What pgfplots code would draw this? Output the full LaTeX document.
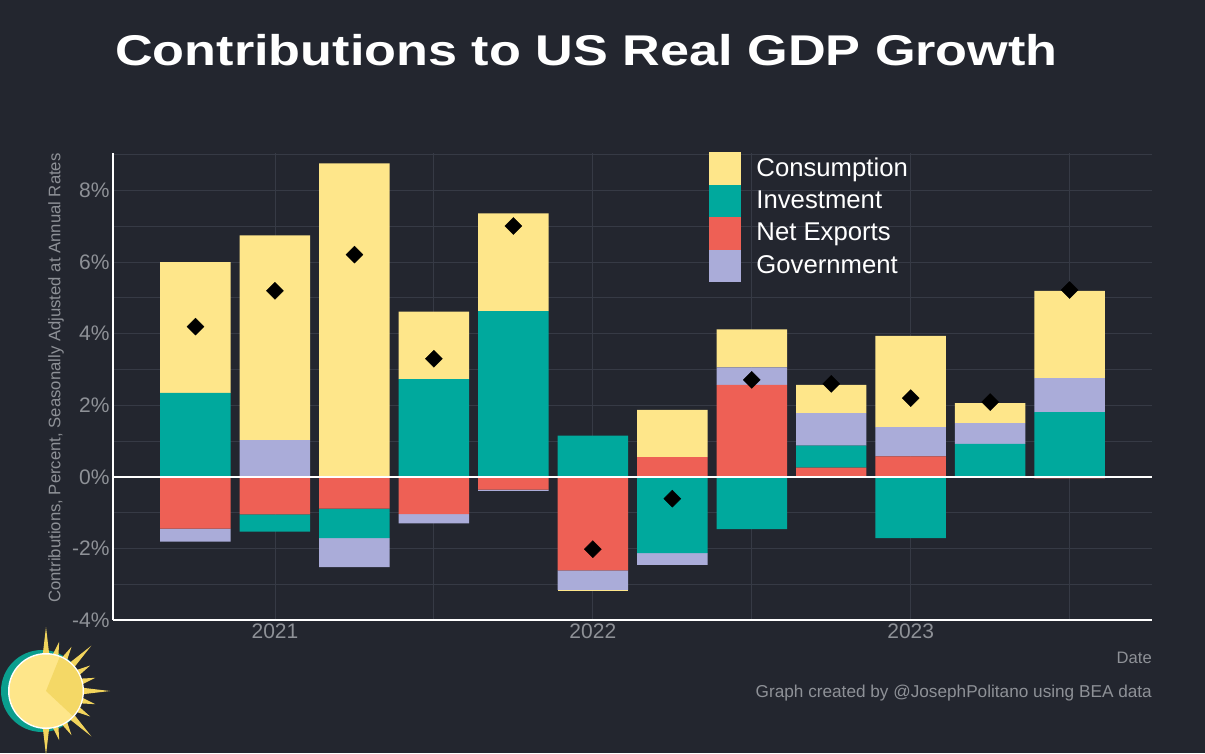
\documentclass[border=0pt]{standalone}
\usepackage{fontspec}
\setmainfont{Liberation Sans}
\usepackage{pgfplots}
\pgfplotsset{compat=1.18}
\usepackage{pgfplotstable}
\usepackage{graphicx}

\definecolor{bg}{HTML}{23262F}
\definecolor{gridc}{HTML}{363A45}
\definecolor{txtgray}{HTML}{8E9197}
\definecolor{consC}{HTML}{FEE68A}
\definecolor{invC}{HTML}{00A99D}
\definecolor{nxC}{HTML}{EE6055}
\definecolor{govC}{HTML}{AAACD9}
\definecolor{tealL}{HTML}{0A9E8E}
\definecolor{rayC}{HTML}{F2D45C}
\definecolor{sunL}{HTML}{FEE68A}
\definecolor{sunD}{HTML}{F4D866}

% quarters 2020Q4 ... 2023Q3 (idx 0..11)
\pgfplotstableread{
idx cons inv nx gov total
0 3.65 2.35 -1.45 -0.36 4.20
1 5.72 -0.48 -1.05 1.03 5.20
2 8.76 -0.82 -0.89 -0.81 6.21
3 1.89 2.73 -1.04 -0.26 3.30
4 2.73 4.63 -0.36 -0.03 7.01
5 -0.02 1.15 -2.61 -0.55 -2.02
6 1.32 -2.13 0.55 -0.33 -0.61
7 1.06 -1.46 2.57 0.49 2.71
8 0.79 0.61 0.26 0.91 2.60
9 2.55 -1.71 0.57 0.82 2.20
10 0.56 0.92 0.00 0.58 2.09
11 2.44 1.81 -0.04 0.95 5.22
}\gdp

\pgfplotsset{
  base/.style={
    scale only axis, width=1039pt, height=467pt,
    at={(113pt,133pt)}, anchor=south west,
    xmin=-1.038, xmax=12.036, ymin=-4, ymax=9.05,
    enlargelimits=false,
  },
}

\begin{document}
\begin{tikzpicture}
\fill[bg] (0pt,0pt) rectangle (1205pt,753pt);

% axis A: grid, ticks, positive stacks
\begin{axis}[base,
  ybar stacked, bar width=0.887,
  axis lines*=left,
  axis line style={white, line width=2pt},
  xtick={1,5,9}, xticklabels={2021,2022,2023},
  minor xtick={3,7,11},
  ytick={-4,-2,0,2,4,6,8}, yticklabels={-4\%,-2\%,0\%,2\%,4\%,6\%,8\%},
  minor ytick={-3,-1,1,3,5,7,9},
  grid=both,
  major grid style={gridc, line width=0.9pt},
  minor grid style={gridc, line width=0.9pt},
  major tick length=0pt, minor tick length=0pt,
  tick label style={font=\fontsize{21}{21}\selectfont, text=txtgray},
  ylabel={Contributions, Percent, Seasonally Adjusted at Annual Rates},
  ylabel style={at={(axis description cs:-0.0549,0.5182)}, anchor=center, font=\fontsize{16.7}{16.7}\selectfont, text=txtgray, inner sep=0pt},
  xlabel={Date},
  xlabel style={at={(axis description cs:1,-0.0942)}, anchor=base east, font=\fontsize{16.6}{16.6}\selectfont, text=txtgray, inner sep=0pt},
]
\addplot[fill=nxC, draw=none] table[x=idx, y expr={max(\thisrow{nx},0)}]{\gdp};
\addplot[fill=invC, draw=none] table[x=idx, y expr={max(\thisrow{inv},0)}]{\gdp};
\addplot[fill=govC, draw=none] table[x=idx, y expr={max(\thisrow{gov},0)}]{\gdp};
\addplot[fill=consC, draw=none] table[x=idx, y expr={max(\thisrow{cons},0)}]{\gdp};
\end{axis}

% axis B: negative stacks
\begin{axis}[base, hide axis, ybar stacked, bar width=0.887]
\addplot[fill=nxC, draw=none] table[x=idx, y expr={min(\thisrow{nx},0)}]{\gdp};
\addplot[fill=invC, draw=none] table[x=idx, y expr={min(\thisrow{inv},0)}]{\gdp};
\addplot[fill=govC, draw=none] table[x=idx, y expr={min(\thisrow{gov},0)}]{\gdp};
\addplot[fill=consC, draw=none] table[x=idx, y expr={min(\thisrow{cons},0)}]{\gdp};
\end{axis}

% axis C: zero line, totals, legend
\begin{axis}[base, hide axis,
  legend cell align=left,
  legend image code/.code={\fill[#1] (0pt,-17pt) rectangle (32.5pt,15.5pt);},
  legend style={at={(rel axis cs:0.5736,1.002)}, anchor=north west, draw=none, fill=none,
    inner sep=0pt, outer sep=0pt, row sep=0pt,
    font=\fontsize{25.7}{25.7}\selectfont, text=white,
    nodes={inner sep=0pt},
    /tikz/every odd column/.style={column sep=15pt}},
]
\draw[white, line width=2pt] (axis cs:-1.038,0) -- (axis cs:12.036,0);
\addlegendimage{fill=consC, draw=none}
\addlegendentry{Consumption}
\addlegendimage{fill=invC, draw=none}
\addlegendentry{Investment}
\addlegendimage{fill=nxC, draw=none}
\addlegendentry{Net Exports}
\addlegendimage{fill=govC, draw=none}
\addlegendentry{Government}
\addplot[only marks, mark=square*, mark size=6pt, mark options={rotate=45, fill=black, draw=black}, forget plot] table[x=idx, y=total]{\gdp};
\end{axis}

\node[anchor=base west, inner sep=0pt, text=white] at (115pt,687pt)
  {\scalebox{1.214}[1]{\fontsize{43}{43}\selectfont\bfseries Contributions to US Real GDP Growth}};
\node[anchor=base east, inner sep=0pt, text=txtgray, font=\fontsize{17.2}{17.2}\selectfont] at (1152pt,56pt)
  {Graph created by @JosephPolitano using BEA data};

% logo (overlay so that it does not widen the picture)
\begin{scope}[overlay, x=1pt, y=1pt]
\fill[tealL] (42,62) circle (41);
\foreach \a in {-90,-75,...,90} {
  \pgfmathsetmacro\L{ifthenelse(mod(\a+90,45)==0,64,51)}
  \fill[rayC, shift={(46,62)}] (\a-6:34) -- (\a:\L) -- (\a+6:34) -- cycle;
}
\fill[white] (46,62) circle (38);
\fill[sunL] (46,62) circle (36.5);
\fill[sunD, shift={(46,62)}] (0,0) -- (-43:36.5) arc[start angle=-43, end angle=68, radius=36.5] -- cycle;
\end{scope}
\end{tikzpicture}
\end{document}
